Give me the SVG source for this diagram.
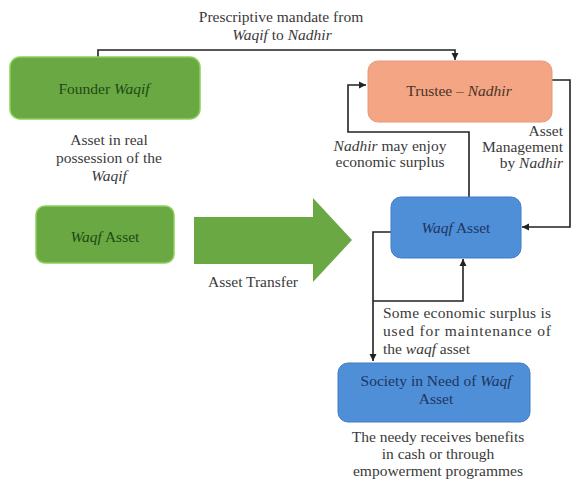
<svg xmlns="http://www.w3.org/2000/svg" width="573" height="483" viewBox="0 0 573 483">
<style>
text{font-family:"Liberation Serif","DejaVu Serif","Noto Serif",Tinos,"Times New Roman",Times,serif;font-size:15.5px;fill:#3a3a3a}
.c{text-anchor:middle}
.r{text-anchor:end}
.i{font-style:italic}
.g rect{fill:#69a843;stroke:#8ccf5a;stroke-width:1.5}
.g text{fill:#1f4a12}
.t rect{fill:#f4a583;stroke:#e8987a;stroke-width:1}
.t text{fill:#4a3326}
.b rect{fill:#4f8fd8;stroke:#3f7cc4;stroke-width:1}
.b text{fill:#1d3560}
.ln{fill:none;stroke:#222;stroke-width:1.6}
</style>
<defs>
<marker id="ah" markerWidth="8" markerHeight="8" refX="7" refY="4" orient="auto" markerUnits="userSpaceOnUse">
<path d="M0,0.5 L7,4 L0,7.5 Z" fill="#222"/>
</marker>
</defs>
<g id="connectors">
<path class="ln" d="M98,57 V50 H455 V60" marker-end="url(#ah)"/>
<path class="ln" d="M469,197 V132 H348 V85 H366" marker-end="url(#ah)"/>
<path class="ln" d="M552,80 H570 V227 H522" marker-end="url(#ah)"/>
<path class="ln" d="M391,232 H373 V361" marker-end="url(#ah)"/>
<path class="ln" d="M373,301 H463 V259" marker-end="url(#ah)"/>
<polygon id="transfer-arrow" points="194,217 313,217 313,198 352,240 313,282 313,264 194,264" fill="#69a843"/>
</g>
<g id="label-mandate">
<text class="c" x="281" y="22">Prescriptive mandate from</text>
<text class="c" x="282" y="40"><tspan class="i">Waqif</tspan> to <tspan class="i">Nadhir</tspan></text>
</g>
<g id="founder" class="g">
<rect x="10" y="57" width="190" height="62" rx="10"/>
<text class="c" x="104" y="94">Founder <tspan class="i">Waqif</tspan></text>
</g>
<g id="label-possession">
<text class="c" x="109" y="145">Asset in real</text>
<text class="c" x="109" y="163">possession of the</text>
<text class="c i" x="109" y="181">Waqif</text>
</g>
<g id="trustee" class="t">
<rect x="368" y="61" width="184" height="61" rx="10"/>
<text class="c" x="459" y="96">Trustee – <tspan class="i">Nadhir</tspan></text>
</g>
<g id="label-enjoy">
<text class="c" x="390" y="151"><tspan class="i">Nadhir</tspan> may enjoy</text>
<text class="c" x="390" y="167">economic surplus</text>
</g>
<g id="label-management">
<text class="r" x="563" y="136">Asset</text>
<text class="r" x="563" y="152">Management</text>
<text class="r" x="563" y="168">by <tspan class="i">Nadhir</tspan></text>
</g>
<g id="waqf-asset-green" class="g">
<rect x="36" y="206" width="138" height="57" rx="9"/>
<text class="c" x="105" y="242"><tspan class="i">Waqf</tspan> Asset</text>
</g>
<g id="label-transfer">
<text class="c" x="253" y="287">Asset Transfer</text>
</g>
<g id="waqf-asset-blue" class="b">
<rect x="391" y="197" width="130" height="61" rx="10"/>
<text class="c" x="456" y="233"><tspan class="i">Waqf</tspan> Asset</text>
</g>
<g id="label-maintenance">
<text x="383" y="318" textLength="168" lengthAdjust="spacing">Some economic surplus is</text>
<text x="383" y="336" textLength="168" lengthAdjust="spacing">used for maintenance of</text>
<text x="383" y="354">the <tspan class="i">waqf</tspan> asset</text>
</g>
<g id="society" class="b">
<rect x="338" y="363" width="192" height="59" rx="10"/>
<text class="c" x="436" y="386">Society in Need of <tspan class="i">Waqf</tspan></text>
<text class="c" x="436" y="404">Asset</text>
</g>
<g id="label-needy">
<text class="c" x="438" y="442">The needy receives benefits</text>
<text class="c" x="438" y="459">in cash or through</text>
<text class="c" x="438" y="476">empowerment programmes</text>
</g>
</svg>
